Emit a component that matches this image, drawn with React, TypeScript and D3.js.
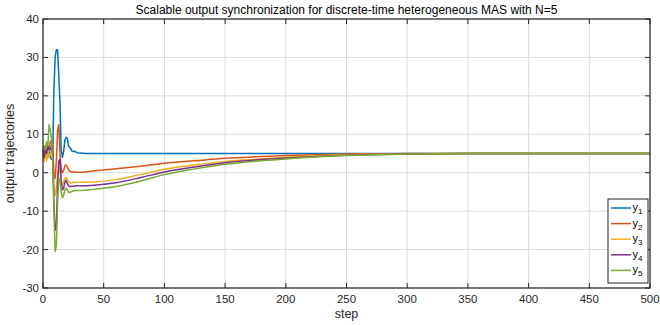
import React from "react";
import * as d3 from "d3";

const earlySteps = d3.range(0, 31);
const tailSteps = [35, 40, 60, 80, 100, 125, 150, 175, 200, 225, 250, 275, 300, 350, 400, 500];

const y1Early = [5.5, 6.5, 4.5, 6, 4, 5.5, 4, 3.5, 4, 22, 30, 32, 32, 25.5, 18, 6, 4, 5.5, 8.5, 9.2, 9, 7, 6.5, 6.2, 5.6, 5.5, 5.6, 5.4, 5.2, 5.1, 5.1];
const y2Early = [6, 5, 7, 4, 7, 6, 8, 8.5, 7, 0, -1.5, 3, 11, 12.5, 5, 1, 0, 0.5, 1.8, 2, 1.5, 0.8, 0.4, 0.3, 0.2, 0.2, 0.2, 0.15, 0.1, 0.1, 0.1];
const y3Early = [4, 3, 5, 3, 6, 4, 5, 6, 3, -3, -6, -4, -1, 1.5, 0, -2.5, -3, -2.5, -1.5, -1.2, -1.8, -2.3, -2.6, -2.7, -2.6, -2.5, -2.5, -2.5, -2.5, -2.5, -2.5];
const y4Early = [5, 4, 6, 5, 7, 6, 6, 7, 5, -8, -15, -14, -3, 3, 3.5, -2, -4.5, -4, -2.5, -2, -2.8, -3.4, -3.6, -3.6, -3.5, -3.5, -3.5, -3.4, -3.4, -3.4, -3.4];
const y5Early = [5, 7, 6, 8, 7, 12.5, 11, 9, 3, -10, -20.5, -19, -8, -2, -1.5, -5, -6.5, -6, -4.5, -4, -4.5, -5, -5.2, -5, -4.8, -4.7, -4.7, -4.6, -4.6, -4.6, -4.6];

const y1Tail = [5, 5, 5, 5, 5, 5, 5, 5, 5, 5, 5, 5, 5, 5, 5, 5];
const y2Tail = [0.2, 0.4, 1.0, 1.7, 2.45, 3.1, 3.75, 4.15, 4.45, 4.7, 4.85, 4.93, 4.97, 5, 5, 5];
const y3Tail = [-2.5, -2.45, -1.8, -0.5, 0.9, 2.0, 2.9, 3.5, 4.0, 4.4, 4.65, 4.82, 4.92, 4.99, 5, 5];
const y4Tail = [-3.4, -3.3, -2.6, -1.3, 0.2, 1.5, 2.6, 3.3, 3.8, 4.25, 4.55, 4.75, 4.9, 4.98, 5, 5];
const y5Tail = [-4.55, -4.4, -3.6, -2.2, -0.5, 1.0, 2.2, 3.0, 3.6, 4.1, 4.45, 4.7, 4.85, 4.97, 5, 5];

const seriesNames = ["1", "2", "3", "4", "5"];
const seriesColors = ["#0072BD", "#D95319", "#EDB120", "#7E2F8E", "#77AC30"];
const earlyData = [y1Early, y2Early, y3Early, y4Early, y5Early];
const tailData = [y1Tail, y2Tail, y3Tail, y4Tail, y5Tail];

const xTicks = d3.range(0, 501, 50);
const yTicks = d3.range(-30, 41, 10);

const W = 660, H = 325;
const L = 43, R = 650, T = 19, B = 288;
const FONT = "'Liberation Sans', Arial, sans-serif";

export default function App() {
  const x = d3.scaleLinear().domain([0, 500]).range([L, R]);
  const y = d3.scaleLinear().domain([-30, 40]).range([B, T]);
  const lineLin = d3
    .line<[number, number]>()
    .x((d) => x(d[0]))
    .y((d) => y(d[1]));
  const lineSmooth = d3
    .line<[number, number]>()
    .x((d) => x(d[0]))
    .y((d) => y(d[1]))
    .curve(d3.curveMonotoneX);

  const axisColor = "#262626";
  const tickLen = 5;

  return (
    <svg width={W} height={H} style={{ position: "absolute", left: 0, top: 0, background: "#fff" }} fontFamily={FONT}>
      <rect x={0} y={0} width={W} height={H} fill="#fff" />
      {xTicks.map((t) => (
        <line key={"gx" + t} x1={x(t)} x2={x(t)} y1={T} y2={B} stroke="#dcdcdc" strokeWidth={1} />
      ))}
      {yTicks.map((t) => (
        <line key={"gy" + t} x1={L} x2={R} y1={y(t)} y2={y(t)} stroke="#dcdcdc" strokeWidth={1} />
      ))}
      <g>
        {earlyData.map((arr, i) => {
          const early = earlySteps.map((s, k) => [s, arr[k]] as [number, number]);
          const tail = [
            [earlySteps[earlySteps.length - 1], arr[arr.length - 1]] as [number, number],
            ...tailSteps.map((s, k) => [s, tailData[i][k]] as [number, number]),
          ];
          return (
            <g key={i}>
              <path d={lineLin(early) || ""} fill="none" stroke={seriesColors[i]} strokeWidth={1.5} strokeLinejoin="round" />
              <path d={lineSmooth(tail) || ""} fill="none" stroke={seriesColors[i]} strokeWidth={1.5} strokeLinejoin="round" />
            </g>
          );
        })}
      </g>
      <rect x={L} y={T} width={R - L} height={B - T} fill="none" stroke={axisColor} strokeWidth={1.2} />
      {xTicks.map((t) => (
        <g key={"tx" + t}>
          <line x1={x(t)} x2={x(t)} y1={B} y2={B - tickLen} stroke={axisColor} strokeWidth={1} />
          <line x1={x(t)} x2={x(t)} y1={T} y2={T + tickLen} stroke={axisColor} strokeWidth={1} />
          <text x={x(t)} y={B + 15} textAnchor="middle" fontSize={11.5} fill={axisColor}>
            {t}
          </text>
        </g>
      ))}
      {yTicks.map((t) => (
        <g key={"ty" + t}>
          <line x1={L} x2={L + tickLen} y1={y(t)} y2={y(t)} stroke={axisColor} strokeWidth={1} />
          <line x1={R} x2={R - tickLen} y1={y(t)} y2={y(t)} stroke={axisColor} strokeWidth={1} />
          <text x={L - 4} y={y(t) + 4} textAnchor="end" fontSize={11.5} fill={axisColor}>
            {t}
          </text>
        </g>
      ))}
      <text x={(L + R) / 2} y={14} textAnchor="middle" fontSize={12} fill="#000">
        Scalable output synchronization for discrete-time heterogeneous MAS with N=5
      </text>
      <text x={(L + R) / 2} y={318} textAnchor="middle" fontSize={12.5} fill={axisColor}>
        step
      </text>
      <text transform={`translate(14,${(T + B) / 2}) rotate(-90)`} textAnchor="middle" fontSize={12.5} fill={axisColor}>
        output trajectories
      </text>
      <g>
        <rect x={608} y={199} width={40} height={84} fill="#fff" stroke={axisColor} strokeWidth={1} />
        {seriesNames.map((n, i) => {
          const cy = 208 + i * 15.6;
          return (
            <g key={"lg" + n}>
              <line x1={611} x2={631} y1={cy} y2={cy} stroke={seriesColors[i]} strokeWidth={1.5} />
              <text x={632.5} y={cy + 3} fontSize={11} fill="#000">
                y
                <tspan fontSize={8} dy={3}>
                  {n}
                </tspan>
              </text>
            </g>
          );
        })}
      </g>
    </svg>
  );
}
